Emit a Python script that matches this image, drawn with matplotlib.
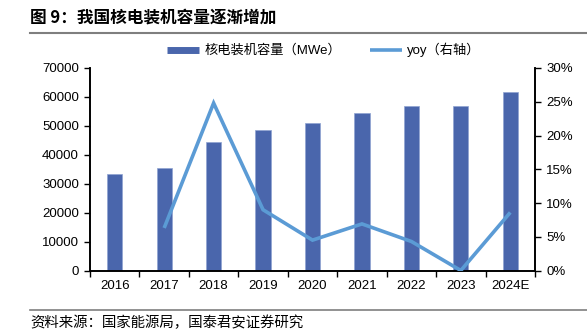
import matplotlib
matplotlib.use("Agg")
import matplotlib.pyplot as plt
from matplotlib.lines import Line2D
import numpy as np

plt.rcParams['font.family'] = ['Liberation Sans', 'Noto Sans CJK SC', 'DejaVu Sans']

years = ["2016", "2017", "2018", "2019", "2020", "2021", "2022", "2023", "2024E"]
capacity_mwe = [33300, 35450, 44550, 48600, 50900, 54350, 56850, 56850, 61700]
yoy_years = ["2017", "2018", "2019", "2020", "2021", "2022", "2023", "2024E"]
yoy_pct = [6.3, 24.8, 9.0, 4.5, 6.9, 4.3, 0.0, 8.6]

left_ticks = [0, 10000, 20000, 30000, 40000, 50000, 60000, 70000]
right_ticks = [0, 5, 10, 15, 20, 25, 30]

bar_color = "#4A66AC"
line_color = "#5B9BD5"
fs = 9.5

fig = plt.figure(figsize=(5.87, 3.33), dpi=100)
ax = fig.add_axes([90 / 587, 1 - 270.5 / 333, 445 / 587, 202.5 / 333])

x = np.arange(len(years))
ax.bar(x, capacity_mwe, width=0.31, color=bar_color, edgecolor="#8FA3D1", linewidth=0.5, zorder=2)
ax.set_xlim(-0.5, len(years) - 0.5)
ax.set_ylim(0, 70000)
ax.set_yticks(left_ticks)
ax.set_yticklabels([str(v) for v in left_ticks], fontsize=fs)
ax.set_xticks(x)
ax.set_xticklabels(years, fontsize=fs)
ax.set_xticks(np.arange(-0.5, len(years)), minor=True)
ax.tick_params(axis="x", which="major", length=0, pad=7)
ax.tick_params(axis="x", which="minor", length=4, width=1, direction="out")
ax.tick_params(axis="y", length=4, width=1, direction="out", pad=4)

ax2 = ax.twinx()
yoy_x = [years.index(y) for y in yoy_years]
ax2.plot(yoy_x, yoy_pct, color=line_color, linewidth=2.6, solid_capstyle="butt",
         solid_joinstyle="miter", zorder=3)
ax2.set_ylim(0, 30)
ax2.set_yticks(right_ticks)
ax2.set_yticklabels([f"{v}%" for v in right_ticks], fontsize=fs)
ax2.tick_params(axis="y", length=4, width=1, direction="out", pad=4)

for a in (ax, ax2):
    a.spines["top"].set_visible(False)
    for s in ("left", "right", "bottom"):
        a.spines[s].set_linewidth(1.2)
        a.spines[s].set_color("black")

# legend
handles = [
    Line2D([0], [0], color=bar_color, linewidth=5, solid_capstyle="butt"),
    Line2D([0], [0], color=line_color, linewidth=2.6, solid_capstyle="butt"),
]
labels = ["核电装机容量（MWe）", "yoy（右轴）"]
fig.legend(handles, labels, loc="center", bbox_to_anchor=(324 / 587, 1 - 50 / 333),
           ncol=2, frameon=False, handlelength=2.4, handletextpad=0.4,
           columnspacing=2.2, prop={"family": ["Liberation Sans", "Noto Sans CJK SC"], "size": fs})

# title and source
fig.text(30 / 587, 1 - 18 / 333, "图 9：我国核电装机容量逐渐增加", fontsize=12, fontweight="bold",
         va="center", ha="left", family=["Noto Sans CJK SC", "DejaVu Sans"])
fig.add_artist(Line2D([30 / 587, 1.0], [1 - 33 / 333, 1 - 33 / 333], color="#7F7F7F", linewidth=1.5))
fig.add_artist(Line2D([30 / 587, 1.0], [1 - 310 / 333, 1 - 310 / 333], color="#7F7F7F", linewidth=1.2))
fig.text(30 / 587, 1 - 323 / 333, "资料来源：国家能源局，国泰君安证券研究", fontsize=10.4,
         va="center", ha="left", family=["Noto Sans CJK SC", "DejaVu Sans"])

fig.savefig("out.png", dpi=100)
